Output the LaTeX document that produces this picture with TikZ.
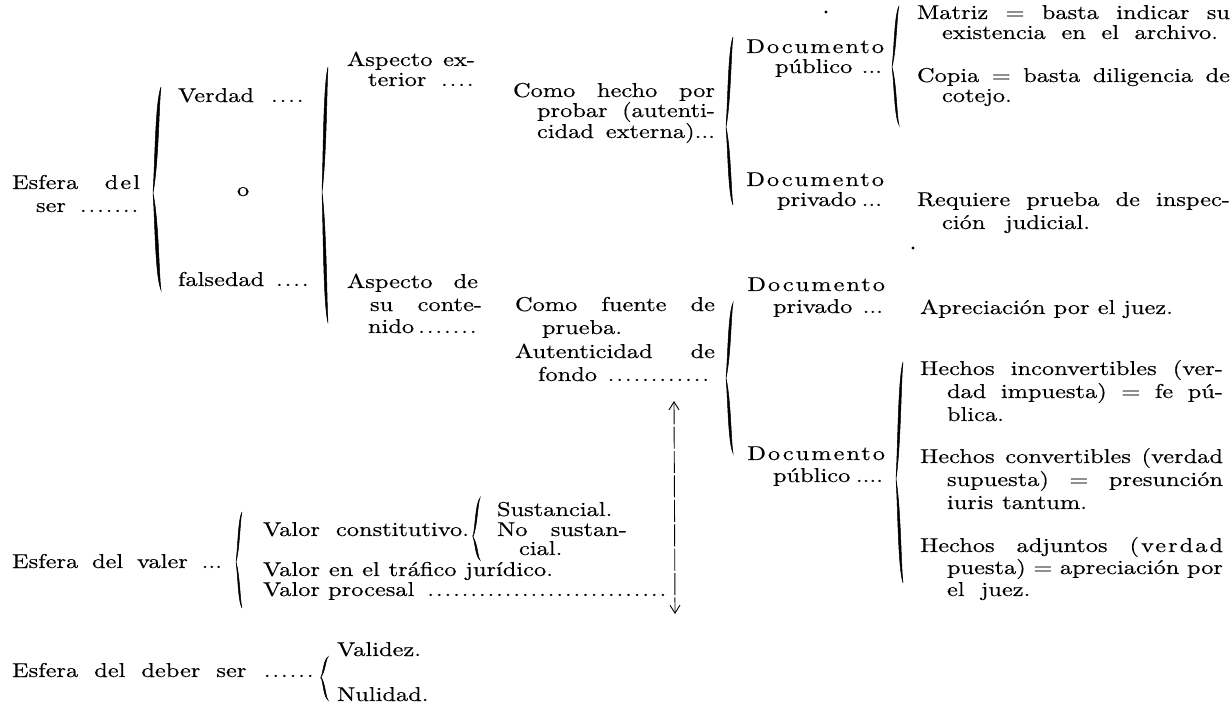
\documentclass[tikz,border=0pt]{standalone}
\usepackage{fontspec}
\setmainfont{lmroman10-regular.otf}[FakeStretch=1.22,FakeBold=0.4]
\newfontfamily\spc{lmroman10-regular.otf}[FakeStretch=1.22,FakeBold=0.4,LetterSpace=10]
\usetikzlibrary{arrows.meta}
\newcommand\fs{\fontsize{10}{12}\selectfont}
\newcommand\myfill{\leaders\hbox to 4.3pt{\hss.\hss}\hfill}
\newcommand\mydots[1]{\cleaders\hbox to 4.3pt{\hss.\hss}\hskip\dimexpr 4.3pt*#1+0.5pt\relax}
\newcommand\jnode[5]{\node[t] (#1) at (#2,#4) {\makebox[\dimexpr(#3pt-#2pt)/2\relax][s]{#5}};}
\newcommand\bbrace[6]{% cusp x, cusp y, top y, bottom y, width, thickness
  \pgfmathsetmacro\bbA{#2-#3}\pgfmathsetmacro\bbB{#4-#2}
  \begin{scope}[shift={(#1,#2)}]
    \filldraw[bracefill] (#5,-\bbA) .. controls ({0.5*#5-#6},{-0.85*\bbA}) and ({0.5*#5-#6},{-0.3*\bbA}) .. (0,0)
      .. controls ({0.5*#5+#6},{-0.3*\bbA}) and ({0.5*#5+#6},{-0.85*\bbA}) .. cycle;
    \filldraw[bracefill] (#5,\bbB) .. controls ({0.5*#5-#6},{0.85*\bbB}) and ({0.5*#5-#6},{0.3*\bbB}) .. (0,0)
      .. controls ({0.5*#5+#6},{0.3*\bbB}) and ({0.5*#5+#6},{0.85*\bbB}) .. cycle;
  \end{scope}}
\begin{document}
\begin{tikzpicture}[x=0.5pt,y=-0.5pt,
  t/.style={inner sep=0pt,outer sep=0pt,anchor=base west,font=\fs},
  te/.style={t,anchor=base east},
  bracefill/.style={fill=black,draw=black,line width=0.25pt},
  arrowline/.style={line width=0.45pt,dash pattern=on 11pt off 1.2pt},
  speck/.style={fill=black}]
\fill[white] (0,0) rectangle (1232,721);
\useasboundingbox (0,0) rectangle (1232,721);

% Esfera del ser
\jnode{esf1}{12}{140}{189}{Esfera {\spc del}}
\jnode{esf2}{36}{140}{212}{ser \myfill}
\jnode{ver}{178}{305}{102}{Verdad\hfill\mydots{4}}
\node[t] (o) at (237,196) {o};
\jnode{fal}{178}{310}{286}{falsedad\hfill\mydots{4}}
\jnode{aspA1}{347}{475}{66}{Aspecto ex-}
\jnode{aspA2}{368}{475}{86}{terior\hfill\mydots{4}}
\jnode{aspB1}{347}{478}{288}{Aspecto de}
\jnode{aspB2}{370}{482}{311}{su conte-}
\jnode{aspB3}{368}{478}{333}{nido\hfill\mydots{7}}
\jnode{comoA1}{513}{715}{97}{Como hecho por}
\jnode{comoA2}{537}{715}{117}{probar (autenti-}
\jnode{comoA3}{537}{715}{138}{cidad externa)...}
\node[te] (docA1) at (884,53) {\spc Documento};
\jnode{docA2}{775}{882}{73}{público\hfill...}
\jnode{matA}{917}{1230}{19}{Matriz = basta indicar su}
\jnode{matB}{942}{1218}{39}{existencia en el archivo.}
\jnode{copA}{917}{1230}{82}{Copia = basta diligencia de}
\node[t] (copB) at (942,102) {cotejo.};
\node[te] (docB1) at (884,186) {\spc Documento};
\jnode{docB2}{777}{882}{206}{privado\hfill...}
\jnode{reqA}{917}{1230}{206}{Requiere prueba de inspec-}
\jnode{reqB}{942}{1090}{229}{ción judicial.}
\jnode{cfA}{515}{715}{311}{Como fuente de}
\node[t] (cfB) at (542,334) {prueba.};
\jnode{cfC}{515}{715}{358}{Autenticidad de}
\jnode{cfD}{538}{715}{381}{fondo \myfill}
\node[te] (docC1) at (885,291) {\spc Documento};
\jnode{docC2}{773}{883}{313}{privado\hfill...}
\node[t] (apr) at (920,314) {Apreciación por el juez.};
\jnode{hA1}{920}{1223}{375}{Hechos inconvertibles (ver-}
\jnode{hA2}{947}{1223}{398}{dad impuesta) = fe pú-}
\node[t] (hA3) at (947,421) {blica.};
\node[te] (docD1) at (885,460) {\spc Documento};
\jnode{docD2}{773}{883}{482}{público\hfill....}
\jnode{hB1}{920}{1223}{463}{Hechos convertibles (verdad}
\jnode{hB2}{947}{1223}{486}{supuesta) = presunción}
\jnode{hB3}{947}{1087}{509}{iuris tantum.}
\jnode{hC1}{920}{1223}{552}{Hechos adjuntos {\spc(verdad}}
\jnode{hC2}{947}{1223}{574}{puesta) = apreciación por}
\node[t] (hC3) at (947,596) {el\ \ juez.};

% Esfera del valer
\jnode{valer}{12}{222}{568}{Esfera del valer ...}
\jnode{vc}{263}{469}{536}{Valor constitutivo.}
\node[t] (sus) at (497,516) {Sustancial.};
\jnode{nos}{497}{627}{536}{No sustan-}
\node[t] (cial) at (519,555) {cial.};
\jnode{vt}{263}{553}{576}{Valor en el tráfico jurídico.}
\jnode{vp}{263}{670}{596}{Valor procesal \myfill}

% Esfera del deber ser
\jnode{deb}{12}{315}{677}{Esfera del deber ser \mydots{6}}
\node[t] (vali) at (337,656) {Validez.};
\node[t] (nul) at (337,701) {Nulidad.};

% braces
\bbrace{153}{193}{87}{290}{8}{1.9}
\bbrace{322}{192}{67}{323}{6}{1.7}
\bbrace{726}{127}{37}{205}{7}{1.5}
\bbrace{892}{67}{6}{125}{7}{1.2}
\bbrace{726}{378}{303}{453}{7}{1.5}
\bbrace{896}{479}{362}{583}{7}{1.5}
\bbrace{236}{562}{512}{608}{6}{1.0}
\bbrace{473}{537}{498}{560}{7}{1.1}
\bbrace{321}{677}{657}{700}{7}{1.0}

% connector
\coordinate (arrTop) at (674,401);
\coordinate (arrBot) at (675,614);
\draw[arrowline,{Straight Barb[length=4pt,width=5pt]}-{Straight Barb[length=4pt,width=5pt]}] (arrTop) -- (arrBot);

% specks
\fill[speck] (826,12) circle[radius=1.6];
\fill[speck] (913,248) circle[radius=1.6];
\end{tikzpicture}
\end{document}
